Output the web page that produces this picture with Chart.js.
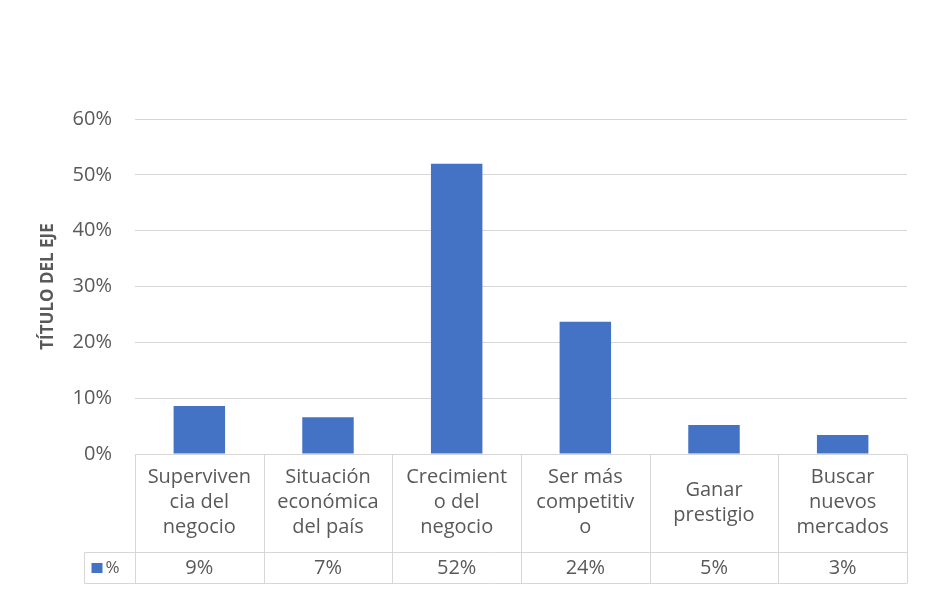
<!DOCTYPE html>
<html>
<head>
<meta charset="utf-8">
<script src="https://cdn.jsdelivr.net/npm/chart.js@4.4.1/dist/chart.umd.min.js"></script>
<style>
  html, body { margin: 0; padding: 0; background: #fff; }
  canvas { display: block; }
</style>
</head>
<body>
<canvas id="chart" width="939" height="603"></canvas>
<script>
// categories as they are wrapped in the data table
const categories = [
  ['Superviven', 'cia del', 'negocio'],
  ['Situación', 'económica', 'del país'],
  ['Crecimient', 'o del', 'negocio'],
  ['Ser más', 'competitiv', 'o'],
  ['Ganar', 'prestigio'],
  ['Buscar', 'nuevos', 'mercados']
];
const values = [8.6, 6.6, 52.0, 23.7, 5.2, 3.4];
const tableLabels = ['9%', '7%', '52%', '24%', '5%', '3%'];
const seriesName = '%';
const yMax = 60;
const yStep = 10;

const FONT = '"Open Sans", sans-serif';
const TEXT = '#595959';
const LINE = '#d6d6d6';
const BLUE = '#4472C4';

// draws the Excel-style data table under the plot
const dataTable = {
  id: 'dataTable',
  afterDraw(chart) {
    const ctx = chart.ctx;
    const xs = chart.scales.x;
    const area = chart.chartArea;
    const n = categories.length;
    const w = (area.right - area.left) / n;
    const top = Math.round(area.bottom) + 0.5;
    const mid = top + 98;
    const bot = mid + 31;
    const keyLeft = Math.round(area.left) - 51 + 0.5;

    ctx.save();
    ctx.strokeStyle = LINE;
    ctx.lineWidth = 1;
    ctx.beginPath();
    ctx.moveTo(area.left, top); ctx.lineTo(area.right, top);
    ctx.moveTo(keyLeft, mid); ctx.lineTo(area.right, mid);
    ctx.moveTo(keyLeft, bot); ctx.lineTo(area.right, bot);
    for (let i = 0; i <= n; i++) {
      const x = Math.round(area.left + i * w) + 0.5;
      ctx.moveTo(x, top); ctx.lineTo(x, bot);
    }
    ctx.moveTo(keyLeft, mid); ctx.lineTo(keyLeft, bot);
    ctx.stroke();

    ctx.fillStyle = TEXT;
    ctx.font = '20px ' + FONT;
    ctx.textAlign = 'center';
    ctx.textBaseline = 'middle';
    const lh = 25;
    const cy = (top + mid) / 2 - 1;
    categories.forEach((lines, i) => {
      const cx = xs.getPixelForValue(i);
      const y0 = cy - (lines.length - 1) * lh / 2;
      lines.forEach((t, j) => ctx.fillText(t, cx, y0 + j * lh));
      ctx.fillText(tableLabels[i], cx, (mid + bot) / 2);
    });

    // legend key
    ctx.fillStyle = BLUE;
    ctx.fillRect(keyLeft + 7, (mid + bot) / 2 - 5, 11, 10);
    ctx.fillStyle = TEXT;
    ctx.textAlign = 'left';
    ctx.font = '17px ' + FONT;
    ctx.fillText(seriesName, keyLeft + 21, (mid + bot) / 2);
    ctx.restore();
  }
};

new Chart(document.getElementById('chart'), {
  type: 'bar',
  data: {
    labels: categories,
    datasets: [{
      label: seriesName,
      data: values,
      backgroundColor: BLUE,
      borderWidth: 0,
      barPercentage: 0.4,
      categoryPercentage: 1
    }]
  },
  options: {
    responsive: false,
    animation: false,
    events: [],
    layout: { padding: { left: 34, right: 32, top: 119, bottom: 149 } },
    plugins: {
      legend: { display: false },
      tooltip: { enabled: false }
    },
    scales: {
      x: { display: false },
      y: {
        min: 0,
        max: yMax,
        afterFit(scale) { scale.width = 101; },
        border: { display: false },
        grid: { color: LINE, lineWidth: 1, drawTicks: false },
        ticks: {
          stepSize: yStep,
          padding: 23,
          color: TEXT,
          font: { family: FONT, size: 20 },
          callback: v => v + '%'
        },
        title: {
          display: true,
          text: 'TÍTULO DEL EJE',
          color: TEXT,
          font: { family: FONT, size: 17, weight: 'bold' }
        }
      }
    }
  },
  plugins: [dataTable]
});
</script>
</body>
</html>
